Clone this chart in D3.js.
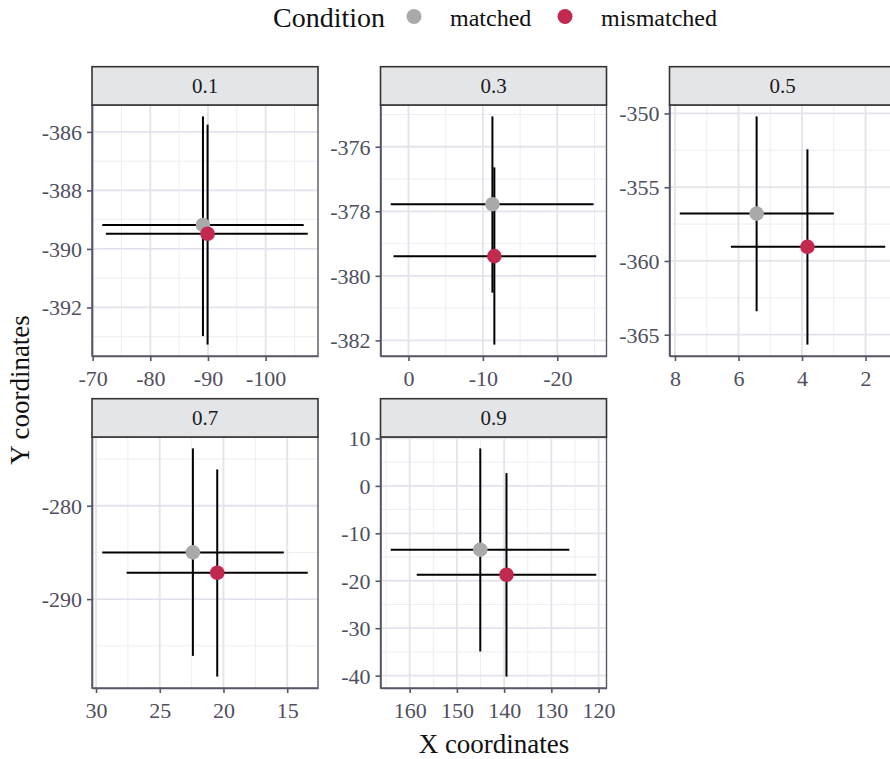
<!DOCTYPE html>
<html>
<head>
<meta charset="utf-8">
<script src="https://cdn.jsdelivr.net/npm/d3@7"></script>
<style>
  html, body { margin: 0; padding: 0; background: #fff; }
  svg { display: block; font-family: "Liberation Serif", "Times New Roman", serif; }
</style>
</head>
<body>
<svg id="chart" width="890" height="759"></svg>
<script>
// Facet labels and condition names
const facets = ["0.1", "0.3", "0.5", "0.7", "0.9"];
const conditions = ["matched", "mismatched"];
const conditionColors = ["#A9A9A9", "#C1294F"];

// Condition means and their x / y ranges, one value per facet
const matchedX    = [-89.13, -11.28, 5.43, 22.40, 145.05];
const matchedY    = [-389.18, -377.78, -356.79, -285.00, -13.45];
const matchedXMin = [-106.6, -24.87, 3.00, 15.27, 126.2];
const matchedXMax = [-71.67, 2.38, 7.85, 29.51, 164.0];
const matchedYMin = [-392.98, -380.52, -363.41, -296.08, -34.9];
const matchedYMax = [-385.47, -375.06, -350.20, -273.86, 7.9];

const mismatchedX    = [-89.93, -11.54, 3.83, 20.49, 139.5];
const mismatchedY    = [-389.48, -379.39, -359.04, -287.18, -18.73];
const mismatchedXMin = [-107.3, -25.23, 1.38, 13.39, 120.5];
const mismatchedXMax = [-72.30, 2.01, 6.24, 27.60, 158.5];
const mismatchedYMin = [-393.27, -382.13, -365.67, -298.30, -40.2];
const mismatchedYMax = [-385.75, -376.64, -352.43, -276.11, 2.7];

// Axis break labels for each facet
const xTicks = [
  [-70, -80, -90, -100],
  [0, -10, -20],
  [8, 6, 4, 2],
  [30, 25, 20, 15],
  [160, 150, 140, 130, 120]
];
const yTicks = [
  [-386, -388, -390, -392],
  [-376, -378, -380, -382],
  [-350, -355, -360, -365],
  [-280, -290],
  [10, 0, -10, -20, -30, -40]
];

// Layout
const panelW = 226, plotH = 251, stripH = 38.3;
const colLeft = [92, 380.5, 669.5];
const rowTop = [66.7, 398.7];

const svg = d3.select("#chart");

// Rows of data per condition
const series = [
  { x: matchedX, y: matchedY, xmin: matchedXMin, xmax: matchedXMax, ymin: matchedYMin, ymax: matchedYMax },
  { x: mismatchedX, y: mismatchedY, xmin: mismatchedXMin, xmax: mismatchedXMax, ymin: mismatchedYMin, ymax: mismatchedYMax }
];

function expand(lo, hi) {
  const pad = (hi - lo) * 0.05;
  return [lo - pad, hi + pad];
}

function minorBreaks(ticks, domain) {
  const sorted = ticks.slice().sort((a, b) => a - b);
  const step = sorted[1] - sorted[0];
  const ext = [sorted[0] - step].concat(sorted, [sorted[sorted.length - 1] + step]);
  const out = [];
  for (let i = 0; i < ext.length - 1; i++) {
    const m = (ext[i] + ext[i + 1]) / 2;
    if (m >= Math.min(...domain) && m <= Math.max(...domain)) out.push(m);
  }
  return out;
}

// Plain hyphen for negative numbers
const fmt = d => String(d);

facets.forEach((label, i) => {
  const col = i % 3, row = Math.floor(i / 3);
  const left = colLeft[col];
  const stripTop = rowTop[row];
  const top = stripTop + stripH;

  const xLo = d3.min(series, s => s.xmin[i]), xHi = d3.max(series, s => s.xmax[i]);
  const yLo = d3.min(series, s => s.ymin[i]), yHi = d3.max(series, s => s.ymax[i]);
  const xd = expand(xLo, xHi), yd = expand(yLo, yHi);

  // x runs reversed (larger values on the left)
  const x = d3.scaleLinear().domain([xd[1], xd[0]]).range([0, panelW]);
  const y = d3.scaleLinear().domain(yd).range([plotH, 0]);

  const g = svg.append("g").attr("transform", `translate(${left},${top})`);

  // Panel background
  g.append("rect").attr("width", panelW).attr("height", plotH).attr("fill", "#fff");

  // Minor grid
  g.append("g").selectAll("line").data(minorBreaks(xTicks[i], xd)).join("line")
    .attr("x1", d => x(d)).attr("x2", d => x(d)).attr("y1", 0).attr("y2", plotH)
    .attr("stroke", "#EDEDF3").attr("stroke-width", 1);
  g.append("g").selectAll("line").data(minorBreaks(yTicks[i], yd)).join("line")
    .attr("y1", d => y(d)).attr("y2", d => y(d)).attr("x1", 0).attr("x2", panelW)
    .attr("stroke", "#EDEDF3").attr("stroke-width", 1);

  // Major grid
  g.append("g").selectAll("line").data(xTicks[i]).join("line")
    .attr("x1", d => x(d)).attr("x2", d => x(d)).attr("y1", 0).attr("y2", plotH)
    .attr("stroke", "#E3E3EC").attr("stroke-width", 1.8);
  g.append("g").selectAll("line").data(yTicks[i]).join("line")
    .attr("y1", d => y(d)).attr("y2", d => y(d)).attr("x1", 0).attr("x2", panelW)
    .attr("stroke", "#E3E3EC").attr("stroke-width", 1.8);

  // Error bars: vertical then horizontal for each condition
  series.forEach(s => {
    g.append("line")
      .attr("x1", x(s.x[i])).attr("x2", x(s.x[i]))
      .attr("y1", y(s.ymin[i])).attr("y2", y(s.ymax[i]))
      .attr("stroke", "#000").attr("stroke-width", 2);
    g.append("line")
      .attr("x1", x(s.xmin[i])).attr("x2", x(s.xmax[i]))
      .attr("y1", y(s.y[i])).attr("y2", y(s.y[i]))
      .attr("stroke", "#000").attr("stroke-width", 2);
  });

  // Points
  series.forEach((s, k) => {
    g.append("circle")
      .attr("cx", x(s.x[i])).attr("cy", y(s.y[i])).attr("r", 7.3)
      .attr("fill", conditionColors[k]);
  });

  // Panel border
  g.append("rect").attr("width", panelW).attr("height", plotH)
    .attr("fill", "none").attr("stroke", "#565666").attr("stroke-width", 1.4);

  // Axes
  const xAxis = g.append("g").attr("transform", `translate(0,${plotH})`)
    .call(d3.axisBottom(x).tickValues(xTicks[i]).tickSize(5).tickSizeOuter(0).tickPadding(4).tickFormat(fmt));
  const yAxis = g.append("g")
    .call(d3.axisLeft(y).tickValues(yTicks[i]).tickSize(5).tickSizeOuter(0).tickPadding(5).tickFormat(fmt));
  [xAxis, yAxis].forEach(a => {
    a.select(".domain").attr("stroke", "#565666").attr("stroke-width", 1.6);
    a.selectAll(".tick line").attr("stroke", "#565666").attr("stroke-width", 1.6);
    a.selectAll(".tick text")
      .attr("fill", "#4F4F5E")
      .style("font-family", "'Liberation Serif', serif")
      .style("font-size", "22px");
  });
  xAxis.selectAll(".tick text").attr("dy", "0.95em");
  yAxis.selectAll(".tick text").attr("dy", "0.34em");

  // Strip
  const strip = svg.append("g").attr("transform", `translate(${left},${stripTop})`);
  strip.append("rect").attr("width", panelW).attr("height", stripH)
    .attr("fill", "#E4E5E7").attr("stroke", "#333333").attr("stroke-width", 1.6);
  strip.append("text").attr("x", panelW / 2).attr("y", stripH / 2 + 7)
    .attr("text-anchor", "middle").attr("fill", "#1A1A1A")
    .style("font-size", "21px").text(label);
});

// Axis titles
svg.append("text").attr("x", 494).attr("y", 753).attr("text-anchor", "middle")
  .attr("fill", "#111").style("font-size", "27px").text("X coordinates");
svg.append("text").attr("transform", "translate(29,390) rotate(-90)").attr("text-anchor", "middle")
  .attr("fill", "#111").style("font-size", "27px").text("Y coordinates");

// Legend
const legend = svg.append("g");
legend.append("text").attr("x", 273).attr("y", 26.5).attr("fill", "#111")
  .style("font-size", "28px").text("Condition");
const legendItemX = [414, 565];
conditions.forEach((c, k) => {
  legend.append("circle").attr("cx", legendItemX[k]).attr("cy", 16.5).attr("r", 7.5)
    .attr("fill", conditionColors[k]);
  legend.append("text").attr("x", legendItemX[k] + 36).attr("y", 25.5).attr("fill", "#111")
    .style("font-size", "24px").text(c);
});
</script>
</body>
</html>
